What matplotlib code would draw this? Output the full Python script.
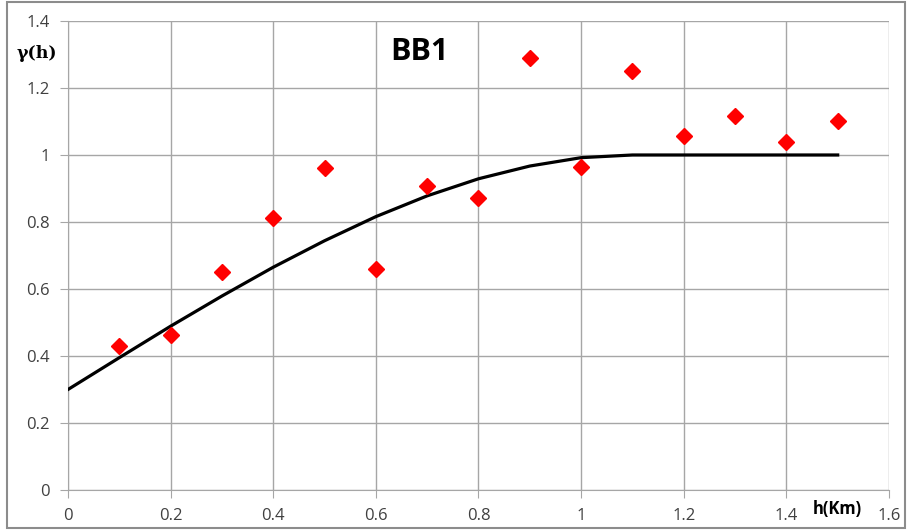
import matplotlib.pyplot as plt
from matplotlib.patches import Rectangle

# experimental variogram points
h_obs = [0.1, 0.2, 0.3, 0.4, 0.5, 0.6, 0.7, 0.8, 0.9, 1.0, 1.1, 1.2, 1.3, 1.4, 1.5]
gamma_obs = [0.43, 0.463, 0.651, 0.812, 0.961, 0.66, 0.907, 0.872, 1.29,
             0.964, 1.25, 1.057, 1.116, 1.039, 1.10]

# fitted model curve
h_model = [0.0, 0.1, 0.2, 0.3, 0.4, 0.5, 0.6, 0.7, 0.8, 0.9, 1.0, 1.1, 1.2, 1.3, 1.4, 1.5]
gamma_model = [0.300, 0.395, 0.489, 0.579, 0.665, 0.744, 0.816, 0.878, 0.929,
               0.967, 0.992, 1.0, 1.0, 1.0, 1.0, 1.0]

x_ticks = [0, 0.2, 0.4, 0.6, 0.8, 1, 1.2, 1.4, 1.6]
x_labels = ["0", "0.2", "0.4", "0.6", "0.8", "1", "1.2", "1.4", "1.6"]
y_ticks = [0, 0.2, 0.4, 0.6, 0.8, 1, 1.2, 1.4]
y_labels = ["0", "0.2", "0.4", "0.6", "0.8", "1", "1.2", "1.4"]

plt.rcParams["font.family"] = ["Open Sans", "DejaVu Sans"]

fig = plt.figure(figsize=(9.09, 5.31), dpi=100)
ax = fig.add_axes([0.0748, 0.0772, 0.9032, 0.8833])

ax.plot(h_model, gamma_model, color="black", lw=2.3, zorder=3)
ax.plot(h_obs, gamma_obs, "D", color="#ff0000", markersize=8.6, zorder=4)

ax.set_xlim(0, 1.6)
ax.set_ylim(0, 1.4)
ax.set_xticks(x_ticks)
ax.set_xticklabels(x_labels)
ax.set_yticks(y_ticks)
ax.set_yticklabels(y_labels)
ax.grid(True, color="#a6a6a6", lw=1)
ax.set_axisbelow(True)
for s in ["top", "right"]:
    ax.spines[s].set_visible(False)
for s in ["left", "bottom"]:
    ax.spines[s].set_color("#a6a6a6")
ax.tick_params(axis="both", direction="out", length=6, color="#a6a6a6",
               labelsize=12, labelcolor="#404040")
ax.tick_params(axis="x", pad=7)
ax.tick_params(axis="y", pad=7)

fig.text(0.041, 0.90, "γ(h)", fontsize=12.5, fontweight="bold",
         family=["DejaVu Serif"], ha="center", va="center")
fig.text(0.461, 0.902, "BB1", fontsize=22, fontweight="bold",
         ha="center", va="center")
fig.text(0.921, 0.042, "h(Km)", fontsize=12, fontweight="bold",
         ha="center", va="center")

# outer frame
fig.patches.append(Rectangle((0.008, 0.006), 0.988, 0.99, transform=fig.transFigure,
                             fill=False, edgecolor="#8c8c8c", lw=1.5))

plt.savefig("out.png", dpi=100)
